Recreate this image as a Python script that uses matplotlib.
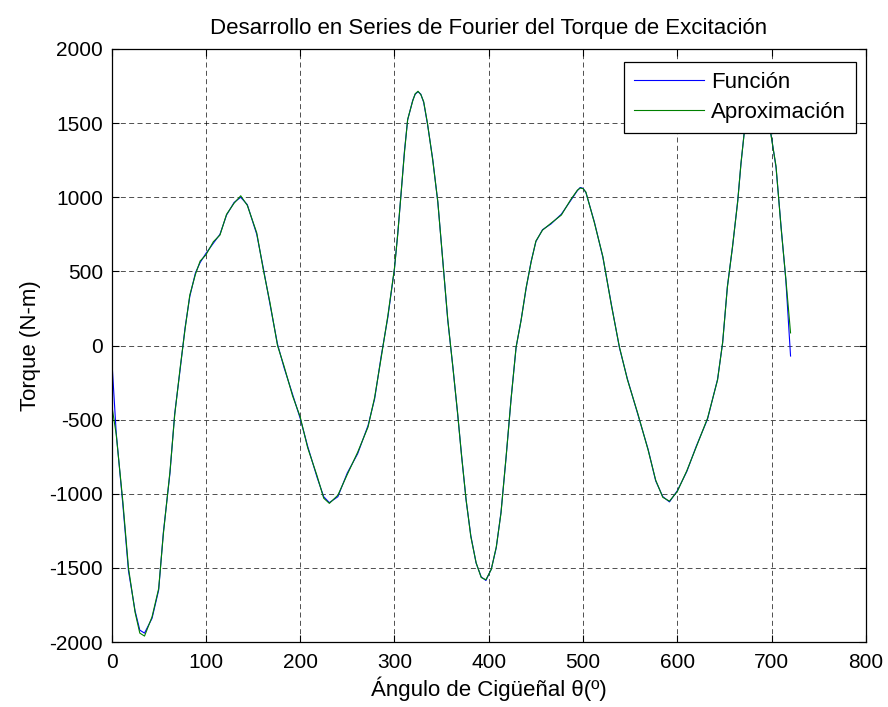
import matplotlib
matplotlib.use("Agg")
import matplotlib.pyplot as plt

# Ángulo de cigüeñal (grados) y torque (N-m)
angulo = [0, 5, 12, 18, 25, 30, 35, 43, 50, 55, 62, 67, 73, 78, 83, 89, 94,
          100, 108, 115, 122, 130, 137, 144, 154, 161, 168, 176, 183, 192,
          200, 208, 218, 225, 231, 240, 250, 261, 272, 279, 286, 293, 300,
          303.5, 307, 310.6, 314, 319.4, 322, 325, 328, 331, 335, 340.6, 346,
          351, 356.5, 362, 367, 371, 376, 381, 386.6, 392, 397, 402.7, 408,
          413, 418.4, 423.7, 429, 434.3, 439.6, 445, 450, 457, 466, 477, 487,
          494, 497, 500, 503, 512, 521, 530, 538.5, 547, 558, 569, 577, 584.5,
          591.6, 600, 610, 620, 632, 642.6, 648, 653, 658.5, 664, 667.4, 671,
          678, 685, 692, 699.3, 704.6, 710, 715, 720]

funcion = [-60, -590, -1070, -1520, -1790, -1920, -1940, -1840, -1650, -1260,
           -860, -460, -150, 120, 330, 490, 560, 620, 690, 750, 880, 965, 1000,
           950, 750, 520, 280, 10, -150, -330, -490, -680, -890, -1020, -1060,
           -1020, -860, -730, -540, -360, -70, 190, 516, 754, 1019, 1310, 1521,
           1654, 1695, 1712, 1695, 1640, 1495, 1257, 966, 595, 172, -146, -463,
           -728, -1045, -1283, -1468, -1561, -1585, -1508, -1363, -1124, -754,
           -357, -13, 172, 384, 569, 701, 781, 820, 886, 979, 1045, 1066, 1060,
           1032, 833, 595, 278, -13, -225, -463, -701, -913, -1019, -1055, -979,
           -850, -680, -496, -228, 18, 397, 665, 978, 1223, 1446, 1700, 1780,
           1720, 1424, 1201, 799, 442, -71]

aproximacion = [-390, -600, -1050, -1500, -1800, -1940, -1960, -1830, -1640,
                -1270, -850, -470, -140, 110, 340, 480, 570, 610, 700, 745, 885,
                960, 1010, 945, 760, 510, 290, 0, -140, -340, -480, -690, -880,
                -1030, -1065, -1010, -870, -720, -550, -350, -80, 200, 520, 750,
                1025, 1300, 1525, 1650, 1698, 1715, 1692, 1645, 1500, 1250, 970,
                590, 180, -150, -455, -735, -1040, -1290, -1465, -1565, -1580,
                -1510, -1358, -1130, -750, -360, -10, 170, 390, 565, 705, 778,
                825, 880, 985, 1048, 1062, 1058, 1035, 828, 600, 272, -8, -230,
                -458, -706, -908, -1024, -1050, -984, -845, -685, -490, -233, 22,
                392, 670, 972, 1228, 1440, 1705, 1775, 1725, 1418, 1210, 790, 450,
                85]

plt.rcParams['font.family'] = ['Liberation Sans', 'DejaVu Sans']
plt.rcParams['font.size'] = 16
plt.rcParams['axes.unicode_minus'] = False

fig = plt.figure(figsize=(8.88, 7.07), dpi=100)
ax = fig.add_axes([111.5 / 888, (707 - 642) / 707, (866 - 111.5) / 888, (642 - 49) / 707])

ax.plot(angulo, funcion, color=(0, 0, 1), lw=0.8, label='Función')
ax.plot(angulo, aproximacion, color=(0, 0.5, 0), lw=0.8, label='Aproximación')

ax.set_xlim(0, 800)
ax.set_ylim(-2000, 2000)
ax.set_xticks(range(0, 801, 100))
ax.set_yticks(range(-2000, 2001, 500))
ax.grid(True, color='k', linestyle=(0, (6, 4)), linewidth=0.6, alpha=0.8)
ax.tick_params(direction='in', top=True, right=True, length=5, width=0.8, labelsize=15)
ax.tick_params(axis='x', pad=8)
ax.tick_params(axis='y', pad=6)
for s in ax.spines.values():
    s.set_linewidth(0.9)

ax.set_title('Desarrollo en Series de Fourier del Torque de Excitación', fontsize=16, pad=11)
ax.set_xlabel('Ángulo de Cigüeñal θ(º)', labelpad=3)
ax.set_ylabel('Torque (N-m)', labelpad=6)

leg = ax.legend(loc='upper right', bbox_to_anchor=(0.9868, 0.978), borderaxespad=0,
                fancybox=False, edgecolor='k', framealpha=1, handlelength=3.15,
                handletextpad=0.3, borderpad=0.45, labelspacing=0.4)
leg.get_frame().set_linewidth(0.9)

fig.savefig('out.png', dpi=100)
